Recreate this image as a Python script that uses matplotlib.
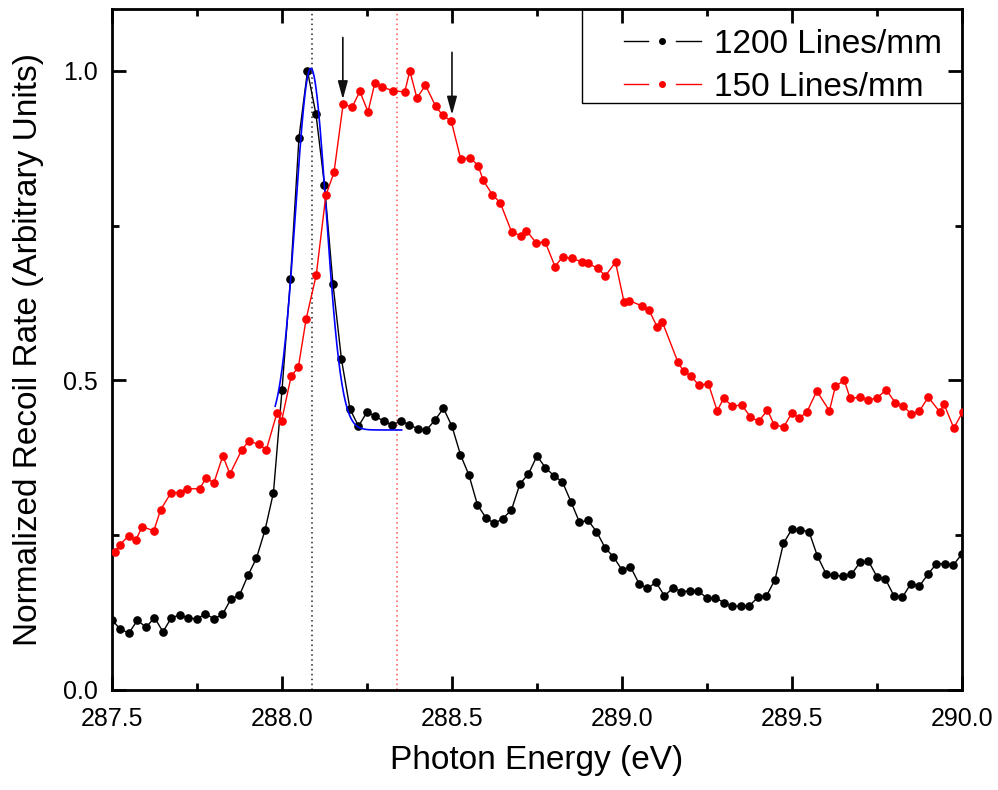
import numpy as np
import matplotlib
matplotlib.use("Agg")
import matplotlib.pyplot as plt
from matplotlib.lines import Line2D
from matplotlib.patches import Rectangle
from matplotlib.legend_handler import HandlerTuple

plt.rcParams["font.family"] = ["Liberation Sans", "DejaVu Sans"]

# 1200 lines/mm grating, 0.025 eV steps
energy_1200 = [
    287.500, 287.525, 287.550, 287.575, 287.600, 287.625, 287.650, 287.675, 287.700, 287.725,
    287.750, 287.775, 287.800, 287.825, 287.850, 287.875, 287.900, 287.925, 287.950, 287.975,
    288.000, 288.025, 288.050, 288.075, 288.100, 288.125, 288.150, 288.175, 288.200, 288.225,
    288.250, 288.275, 288.300, 288.325, 288.350, 288.375, 288.400, 288.425, 288.450, 288.475,
    288.500, 288.525, 288.550, 288.575, 288.600, 288.625, 288.650, 288.675, 288.700, 288.725,
    288.750, 288.775, 288.800, 288.825, 288.850, 288.875, 288.900, 288.925, 288.950, 288.975,
    289.000, 289.025, 289.050, 289.075, 289.100, 289.125, 289.150, 289.175, 289.200, 289.225,
    289.250, 289.275, 289.300, 289.325, 289.350, 289.375, 289.400, 289.425, 289.450, 289.475,
    289.500, 289.525, 289.550, 289.575, 289.600, 289.625, 289.650, 289.675, 289.700, 289.725,
    289.750, 289.775, 289.800, 289.825, 289.850, 289.875, 289.900, 289.925, 289.950, 289.975,
    290.000,
]
rate_1200 = [
    0.113, 0.098, 0.092, 0.113, 0.101, 0.117, 0.094, 0.117, 0.121, 0.116,
    0.115, 0.123, 0.115, 0.122, 0.147, 0.153, 0.185, 0.213, 0.258, 0.319,
    0.484, 0.664, 0.892, 1.000, 0.930, 0.816, 0.656, 0.534, 0.454, 0.426,
    0.449, 0.442, 0.434, 0.428, 0.435, 0.428, 0.422, 0.420, 0.436, 0.455,
    0.426, 0.380, 0.347, 0.299, 0.278, 0.269, 0.277, 0.291, 0.333, 0.349,
    0.378, 0.359, 0.346, 0.336, 0.304, 0.271, 0.274, 0.256, 0.230, 0.215,
    0.194, 0.199, 0.172, 0.164, 0.174, 0.152, 0.165, 0.159, 0.160, 0.160,
    0.148, 0.149, 0.141, 0.135, 0.136, 0.136, 0.150, 0.152, 0.178, 0.237,
    0.260, 0.258, 0.256, 0.216, 0.188, 0.185, 0.184, 0.187, 0.206, 0.208,
    0.183, 0.179, 0.152, 0.150, 0.172, 0.168, 0.187, 0.204, 0.204, 0.202,
    0.220,
]

# 150 lines/mm grating
energy_150 = [
    287.509, 287.524, 287.549, 287.570, 287.589, 287.623, 287.643, 287.674, 287.701, 287.721,
    287.758, 287.776, 287.800, 287.826, 287.847, 287.881, 287.902, 287.931, 287.954, 287.985,
    287.999, 288.027, 288.048, 288.071, 288.101, 288.129, 288.153, 288.180, 288.206, 288.229,
    288.253, 288.273, 288.294, 288.327, 288.361, 288.376, 288.397, 288.422, 288.452, 288.473,
    288.498, 288.526, 288.553, 288.577, 288.592, 288.619, 288.642, 288.676, 288.704, 288.719,
    288.748, 288.774, 288.803, 288.826, 288.852, 288.882, 288.901, 288.929, 288.951, 288.981,
    289.006, 289.022, 289.060, 289.080, 289.104, 289.119, 289.165, 289.181, 289.204, 289.226,
    289.254, 289.280, 289.299, 289.324, 289.353, 289.378, 289.402, 289.428, 289.448, 289.476,
    289.500, 289.521, 289.544, 289.573, 289.610, 289.628, 289.654, 289.671, 289.701, 289.723,
    289.749, 289.777, 289.804, 289.827, 289.850, 289.874, 289.901, 289.935, 289.947, 289.976,
    290.002,
]
rate_150 = [
    0.223, 0.235, 0.249, 0.242, 0.264, 0.257, 0.291, 0.319, 0.319, 0.325,
    0.325, 0.342, 0.335, 0.378, 0.349, 0.387, 0.402, 0.397, 0.388, 0.447,
    0.435, 0.507, 0.521, 0.599, 0.671, 0.799, 0.836, 0.947, 0.941, 0.967,
    0.934, 0.980, 0.974, 0.968, 0.966, 1.000, 0.956, 0.977, 0.943, 0.928,
    0.919, 0.857, 0.860, 0.847, 0.823, 0.800, 0.787, 0.739, 0.734, 0.742,
    0.722, 0.724, 0.684, 0.700, 0.697, 0.692, 0.689, 0.681, 0.669, 0.691,
    0.627, 0.629, 0.620, 0.613, 0.586, 0.594, 0.529, 0.515, 0.507, 0.492,
    0.495, 0.451, 0.471, 0.459, 0.460, 0.441, 0.434, 0.452, 0.428, 0.425,
    0.448, 0.439, 0.449, 0.483, 0.451, 0.491, 0.500, 0.471, 0.473, 0.469,
    0.471, 0.485, 0.464, 0.459, 0.446, 0.450, 0.473, 0.449, 0.462, 0.423,
    0.449,
]

# gaussian fit to the 1200 lines/mm peak
fit_center = 288.085
fit_sigma = 0.045
fit_amp = 0.584
fit_offset = 0.420
fit_range = (287.98, 288.352)

peak_line_1200 = 288.088
peak_line_150 = 288.338
arrow_energies = [288.179, 288.500]
arrow_tops = [1.054, 1.030]
arrow_tips = [0.954, 0.929]

fig = plt.figure(figsize=(9.98, 7.9), dpi=100)
ax = fig.add_axes([0.1122, 0.1266, 0.8517, 0.862])

ax.axvline(peak_line_1200, color="#222222", linestyle=(0, (1, 2.2)), linewidth=1.1, zorder=1)
ax.axvline(peak_line_150, color="#ff5050", linestyle=(0, (1, 2.2)), linewidth=1.1, zorder=1)

ax.plot(energy_1200, rate_1200, color="black", linewidth=1.0, marker="o",
        markersize=5.2, zorder=3)

e_fit = np.linspace(fit_range[0], fit_range[1], 300)
y_fit = fit_offset + fit_amp * np.exp(-(e_fit - fit_center) ** 2 / (2 * fit_sigma ** 2))
ax.plot(e_fit, y_fit, color="#0000ff", linewidth=1.2, zorder=4)

ax.plot(energy_150, rate_150, color="#ff0000", linewidth=1.0, marker="o",
        markersize=5.2, zorder=5)

for e, top, tip in zip(arrow_energies, arrow_tops, arrow_tips):
    ax.annotate("", xy=(e, tip), xytext=(e, top),
                arrowprops=dict(arrowstyle="-|>,head_length=1.1,head_width=0.3",
                                color="#111111", linewidth=1.2, shrinkA=0, shrinkB=0),
                zorder=6)

ax.set_xlim(287.5, 290.0)
ax.set_ylim(0.0, 1.1)
ax.set_xticks([287.5, 288.0, 288.5, 289.0, 289.5, 290.0])
ax.set_xticks([287.75, 288.25, 288.75, 289.25, 289.75], minor=True)
ax.set_yticks([0.0, 0.5, 1.0])
ax.set_yticks([0.25, 0.75], minor=True)
ax.xaxis.set_major_formatter(matplotlib.ticker.FormatStrFormatter("%.1f"))
ax.yaxis.set_major_formatter(matplotlib.ticker.FormatStrFormatter("%.1f"))

ax.tick_params(which="both", direction="in", top=True, right=True, width=2, labelsize=18)
ax.tick_params(which="major", length=10)
ax.tick_params(which="minor", length=5)
ax.tick_params(axis="x", which="major", pad=12)
ax.tick_params(axis="y", which="major", pad=10)
for s in ax.spines.values():
    s.set_linewidth(2)

ax.set_xlabel("Photon Energy (eV)", fontsize=24, labelpad=10)
ax.set_ylabel("Normalized Recoil Rate (Arbitrary Units)", fontsize=24, labelpad=14)

# legend handles: line, dot, line with small gaps
def seg(c):
    return Line2D([], [], color=c, linewidth=1.0)

def dot(c):
    return Line2D([], [], color=c, linestyle="none", marker="o", markersize=4)

handles = [(seg("black"), dot("black"), seg("black")),
           (seg("#ff0000"), dot("#ff0000"), seg("#ff0000"))]
labels = ["1200 Lines/mm", "150 Lines/mm"]
leg = ax.legend(handles, labels, loc="upper right", bbox_to_anchor=(1.0, 1.0),
                frameon=False, fontsize=24, handlelength=2.3, handletextpad=0.4,
                labelspacing=0.35, borderaxespad=0.35, borderpad=0.25,
                handler_map={tuple: HandlerTuple(ndivide=3, pad=0.05)})
ax.add_patch(Rectangle((0.553, 0.862), 0.447, 0.138, transform=ax.transAxes,
                       fill=False, edgecolor="black", linewidth=1.0, zorder=7))

fig.savefig("out.png", dpi=100)
